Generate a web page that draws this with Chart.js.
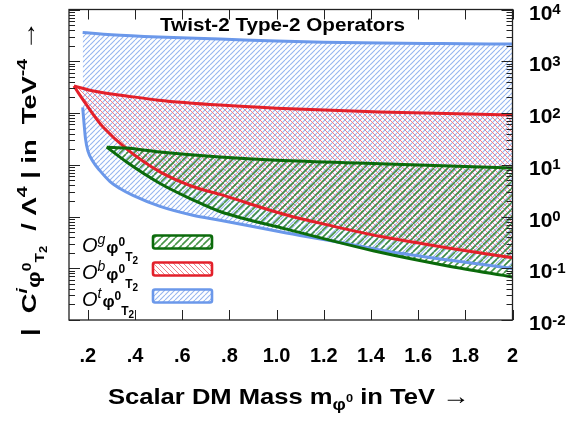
<!DOCTYPE html>
<html><head><meta charset="utf-8">
<script src="https://cdn.jsdelivr.net/npm/chart.js@4.4.1/dist/chart.umd.min.js"></script>
<style>html,body{margin:0;padding:0;background:#fff}#wrap{width:579px;height:423px}</style>
</head><body><div id="wrap"><canvas id="c" width="579" height="423"></canvas></div>
<script>
// ---- data (mass in TeV, |C/Λ^4| in TeV^-4) ----
const gUpperMass = [0.28, 0.364, 0.506, 0.76, 1.0, 1.438, 2.0];
const gUpperC    = [21.9, 21.0, 17.6, 14.1, 12.2, 10.5, 8.67];
const gLowerMass = [0.28, 0.364, 0.506, 0.647, 0.76, 1.042, 1.438, 1.72, 2.0];
const gLowerC    = [21.9, 11.3, 4.35, 2.08, 1.25, 0.571, 0.203, 0.112, 0.068];

const bUpperMass = [0.141, 0.223, 0.364, 0.5, 0.76, 1.0, 1.438, 2.0];
const bUpperC    = [332, 266, 214, 177, 142, 124, 105, 91.2];
const bLowerMass = [0.141, 0.159, 0.237, 0.265, 0.364, 0.506, 0.647, 0.76, 1.042, 1.24, 1.438, 1.72, 2.0];
const bLowerC    = [332, 248, 76.4, 53, 20.3, 7.28, 3.76, 2.67, 1.07, 0.65, 0.414, 0.25, 0.159];

const tUpperMass = [0.178, 0.3, 0.5, 0.76, 1.0, 1.2, 1.44, 1.7, 2.0];
const tUpperC    = [3600, 3245, 2930, 2690, 2460, 2335, 2250, 2200, 2150];
const tLowerMass = [0.178, 0.184, 0.19, 0.2, 0.223, 0.251, 0.294, 0.336, 0.391, 0.506, 0.645, 0.76, 1.042, 1.323, 1.438, 1.72, 2.0];
const tLowerC    = [128, 61, 31.6, 18.6, 11.3, 7.7, 4.74, 3.48, 2.56, 1.57, 1.06, 0.85, 0.48, 0.286, 0.226, 0.146, 0.099];

const xTicks = [0.2, 0.4, 0.6, 0.8, 1.0, 1.2, 1.4, 1.6, 1.8, 2.0];
const xTickLabels = ['.2', '.4', '.6', '.8', '1.0', '1.2', '1.4', '1.6', '1.8', '2'];
const yTickValues = [0.01, 0.1, 1, 10, 100, 1000, 10000];
const yTickExp = ['-2', '-1', '0', '1', '2', '3', '4'];
const seriesKeys = ['g', 'b', 't'];
const chartTitle = 'Twist-2 Type-2 Operators';

// ---- styles ----
const FONT = "'Liberation Sans', Arial, Helvetica, sans-serif";
const fnt = (s, b = true, it = false) => `${it ? 'italic ' : ''}${b ? 'bold ' : ''}${s}px ${FONT}`;
const GREEN = '#0b6b0b', RED = '#e3202a', BLUE = '#6b98ea';

const canvas = document.getElementById('c');
const mainCtx = canvas.getContext('2d');
function hatch(color, size, lw, dir) {
  const c = document.createElement('canvas'); c.width = c.height = size;
  const g = c.getContext('2d'); g.strokeStyle = color; g.lineWidth = lw;
  g.beginPath();
  for (let k = -1; k <= 1; k++) {
    if (dir > 0) { g.moveTo(k * size, size); g.lineTo(k * size + size, 0); }
    else { g.moveTo(k * size, 0); g.lineTo(k * size + size, size); }
  }
  g.stroke();
  return mainCtx.createPattern(c, 'repeat');
}
const patG = hatch('rgba(40,130,40,0.85)', 7, 1.6, 1);
const patR = hatch('rgb(242,128,136)', 5, 1, -1);
const patT = hatch('rgb(150,182,240)', 5, 1.1, 1);
const patterns = {g: patG, b: patR, t: patT};
const colors = {g: GREEN, b: RED, t: BLUE};

const pts = (m, c) => m.map((v, i) => ({x: v, y: c[i]}));
const lineDs = (data, color, order) => ({
  data, borderColor: color, borderWidth: 3, pointRadius: 0,
  cubicInterpolationMode: 'monotone', fill: false, order
});
const fillDs = (data, fill, bg, order) => ({
  data, borderWidth: 0, borderColor: 'transparent', pointRadius: 0,
  cubicInterpolationMode: 'monotone', fill, backgroundColor: bg, order
});

function richWidth(ctx, runs) {
  let w = 0;
  for (const r of runs) { ctx.font = fnt(r.s, r.b !== false, !!r.it); w += ctx.measureText(r.t).width + (r.gap || 0); }
  return w;
}
function drawRich(ctx, runs, x, y, targetW) {
  const w = richWidth(ctx, runs);
  const sx = targetW ? targetW / w : 1;
  ctx.save(); ctx.translate(x, y); ctx.scale(sx, 1);
  let cx = 0;
  ctx.textBaseline = 'alphabetic'; ctx.textAlign = 'left';
  for (const r of runs) {
    ctx.font = fnt(r.s, r.b !== false, !!r.it);
    cx += (r.gap || 0);
    ctx.fillText(r.t, cx, r.dy || 0);
    cx += ctx.measureText(r.t).width;
  }
  ctx.restore();
  return w * sx;
}

const deco = {
  id: 'deco',
  beforeDraw(chart) {
    const {ctx, width, height} = chart;
    ctx.save(); ctx.fillStyle = '#fff'; ctx.fillRect(0, 0, width, height); ctx.restore();
  },
  afterDraw(chart) {
    const {ctx, chartArea: a, scales: {x, y}} = chart;
    ctx.save();
    ctx.fillStyle = '#000';
    ctx.strokeStyle = '#222'; ctx.lineWidth = 1.3;
    ctx.strokeRect(a.left, a.top, a.right - a.left, a.bottom - a.top);
    ctx.lineWidth = 1; ctx.beginPath();
    xTicks.forEach(v => {
      const px = Math.round(x.getPixelForValue(v)) + 0.5;
      ctx.moveTo(px, a.bottom); ctx.lineTo(px, a.bottom - 10);
      ctx.moveTo(px, a.top); ctx.lineTo(px, a.top + 10);
    });
    for (let e = -2; e <= 4; e++) for (let k = 1; k < 10; k++) {
      const v = k * Math.pow(10, e);
      if (v > 10000) break;
      const py = Math.round(y.getPixelForValue(v)) + 0.5;
      const L = k === 1 ? 11 : 6;
      ctx.moveTo(a.left, py); ctx.lineTo(a.left + L, py);
      ctx.moveTo(a.right, py); ctx.lineTo(a.right - L, py);
    }
    ctx.stroke();
    yTickValues.forEach((v, i) => {
      const py = y.getPixelForValue(v);
      ctx.font = fnt(21); ctx.textAlign = 'left'; ctx.textBaseline = 'alphabetic';
      ctx.fillText('10', a.right + 16.5, py + 10);
      const w = ctx.measureText('10').width;
      ctx.font = fnt(15);
      ctx.fillText(yTickExp[i], a.right + 16.5 + w, py + 4.5);
    });
    drawRich(ctx, [{t: chartTitle, s: 18}], 160, 31, 245);
    drawRich(ctx, [
      {t: 'Scalar DM Mass m', s: 22},
      {t: 'φ', s: 16, dy: 6},
      {t: '0', s: 11, dy: -2},
      {t: ' in TeV ', s: 22},
      {t: '→', s: 24}
    ], 108, 404, 362);
    ctx.save();
    ctx.translate(36, 178); ctx.rotate(-Math.PI / 2);
    const yRuns = [
      {t: '|  C', s: 21}, {t: 'i', s: 15, it: 1, dy: -9},
      {t: 'φ', s: 18, dy: 4}, {t: '0', s: 12, dy: -5},
      {t: 'T', s: 12, dy: 8}, {t: '2', s: 10, dy: 11},
      {t: '  / Λ', s: 21}, {t: '4', s: 15, dy: -9},
      {t: ' | in  TeV', s: 21}, {t: '-4', s: 15, dy: -9},
      {t: ' ', s: 21}, {t: '→', s: 24, dy: -1}
    ];
    drawRich(ctx, yRuns, -158, 0, 316);
    ctx.restore();
    seriesKeys.forEach((k, i) => {
      const by = 235.5 + 27 * i;
      ctx.fillStyle = patterns[k];
      ctx.beginPath(); ctx.roundRect(153, by, 59, 13, 2); ctx.fill();
      ctx.strokeStyle = colors[k]; ctx.lineWidth = 2.6; ctx.stroke();
      ctx.fillStyle = '#000';
      drawRich(ctx, [
        {t: 'O', s: 20, b: false, it: 1},
        {t: k, s: 14, b: false, it: 1, dy: -8},
        {t: 'φ', s: 17, dy: 1, gap: 1},
        {t: '0', s: 12, dy: -6},
        {t: 'T', s: 12, dy: 9},
        {t: '2', s: 10, dy: 12}
      ], 82, 252 + 27 * i);
    });
    ctx.restore();
  }
};

const gU = pts(gUpperMass, gUpperC), gL = pts(gLowerMass, gLowerC);
const bU = pts(bUpperMass, bUpperC), bL = pts(bLowerMass, bLowerC);
const tU = pts(tUpperMass, tUpperC), tL = pts(tLowerMass, tLowerC);

new Chart(canvas, {
  type: 'line',
  data: {
    datasets: [
      lineDs(gU, GREEN, 0), lineDs(gL, GREEN, 0),
      lineDs(bU, RED, 0), lineDs(bL, RED, 0),
      lineDs(tU, BLUE, 0), lineDs(tL, BLUE, 0),
      fillDs(gU, '+1', patG, 1), fillDs(gL, false, 'transparent', 1),
      fillDs(bU, '+1', patR, 2), fillDs(bL, false, 'transparent', 2),
      fillDs(tU, '+1', patT, 3), fillDs(tL, false, 'transparent', 3)
    ]
  },
  options: {
    responsive: false, animation: false, devicePixelRatio: 1,
    layout: {padding: {left: 69, right: 66.5, top: 9.5, bottom: 31}},
    plugins: {legend: {display: false}, tooltip: {enabled: false}},
    scales: {
      x: {
        type: 'linear', min: 0.12, max: 2.0,
        grid: {display: false, drawTicks: false}, border: {display: false},
        afterBuildTicks: (s) => { s.ticks = xTicks.map(v => ({value: v})); },
        ticks: {
          autoSkip: false, maxRotation: 0, padding: 24, color: '#000',
          font: {family: FONT, size: 20, weight: 'bold'},
          callback: (v, i) => xTickLabels[i]
        }
      },
      y: {
        type: 'logarithmic', position: 'right', min: 0.01, max: 10000,
        grid: {display: false, drawTicks: false}, border: {display: false},
        ticks: {display: false}
      }
    }
  },
  plugins: [deco]
});
</script></body></html>
